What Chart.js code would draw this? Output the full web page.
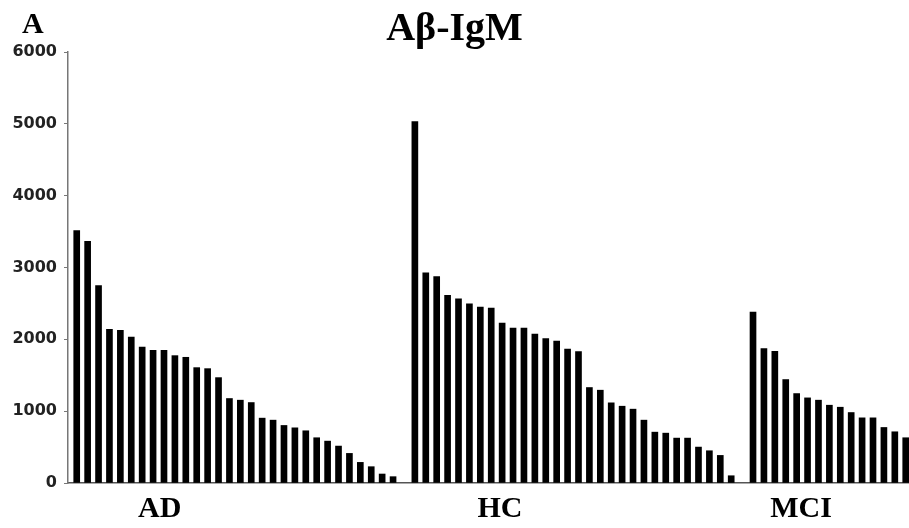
<!DOCTYPE html>
<html>
<head>
<meta charset="utf-8">
<script src="https://cdn.jsdelivr.net/npm/chart.js@4"></script>
<style>
  html, body { margin: 0; padding: 0; background: #fff; overflow: hidden; }
  #wrap { position: relative; width: 909px; height: 528px; }
</style>
</head>
<body>
<div id="wrap"><canvas id="chart"></canvas></div>
<script>
const groupNames = ['AD', 'HC', 'MCI'];
const adValues = [3514, 3365, 2750, 2139, 2125, 2032, 1893, 1847, 1847, 1773, 1750, 1606, 1592, 1467, 1176,
  1153, 1120, 903, 875, 801, 768, 727, 630, 583, 514, 412, 287, 227, 125, 88];
const hcValues = [5032, 2926, 2875, 2611, 2565, 2495, 2449, 2435, 2227, 2157, 2157, 2074, 2009, 1977, 1866,
  1829, 1329, 1292, 1116, 1069, 1028, 875, 708, 694, 625, 625, 500, 449, 384, 101];
const mciValues = [2380, 1870, 1833, 1440, 1245, 1185, 1153, 1083, 1055, 981, 907, 907, 773, 713, 630];
const yTicks = [0, 1000, 2000, 3000, 4000, 5000, 6000];

// one empty slot between groups
const points = [];
let slot = 0;
[adValues, hcValues, mciValues].forEach(vals => {
  vals.forEach(v => points.push({ x: slot++, y: v }));
  slot++;
});

// where the group names sit along the slot axis
const labelSlots = [7.6, 38.8, 66.4];

const panelLetter = {
  id: 'panelLetter',
  afterDraw(chart) {
    const ctx = chart.ctx;
    ctx.save();
    ctx.font = 'bold 30px "Liberation Serif", "Times New Roman", serif';
    ctx.fillStyle = '#000';
    ctx.textBaseline = 'alphabetic';
    ctx.fillText('A', 22, 33);
    ctx.restore();
  }
};

new Chart(document.getElementById('chart'), {
  type: 'bar',
  data: {
    datasets: [{
      data: points,
      backgroundColor: '#000',
      borderWidth: 0,
      barThickness: 6
    }]
  },
  options: {
    responsive: true,
    maintainAspectRatio: false,
    animation: false,
    layout: { padding: 0 },
    plugins: {
      legend: { display: false },
      tooltip: { enabled: false },
      title: {
        display: true,
        text: 'Aβ-IgM',
        color: '#000',
        font: { family: '"Liberation Serif", "Times New Roman", serif', size: 40, weight: 'bold', lineHeight: 1 },
        padding: { top: 10, bottom: 2 }
      }
    },
    scales: {
      x: {
        type: 'linear',
        min: -0.8,
        max: 76.3,
        offset: false,
        afterFit: s => { s.height = 45; },
        grid: { display: false, drawTicks: false },
        border: { display: true, color: '#555', width: 1.5 },
        afterBuildTicks: axis => { axis.ticks = labelSlots.map(v => ({ value: v })); },
        ticks: {
          autoSkip: false,
          maxRotation: 0,
          padding: 11,
          color: '#000',
          font: { family: '"Liberation Serif", "Times New Roman", serif', size: 30, weight: 'bold', lineHeight: 1 },
          callback: (v, i) => groupNames[i]
        }
      },
      y: {
        min: 0,
        max: 6000,
        afterFit: s => { s.width = 68; },
        afterBuildTicks: axis => { axis.ticks = yTicks.map(v => ({ value: v })); },
        grid: { display: true, drawOnChartArea: false, drawTicks: true, tickLength: 4, color: '#777' },
        border: { display: true, color: '#777', width: 1.5 },
        ticks: {
          padding: 7,
          color: '#222',
          font: { family: '"DejaVu Sans", sans-serif', size: 16, weight: 'bold' },
          callback: v => String(v)
        }
      }
    }
  },
  plugins: [panelLetter]
});
</script>
</body>
</html>
